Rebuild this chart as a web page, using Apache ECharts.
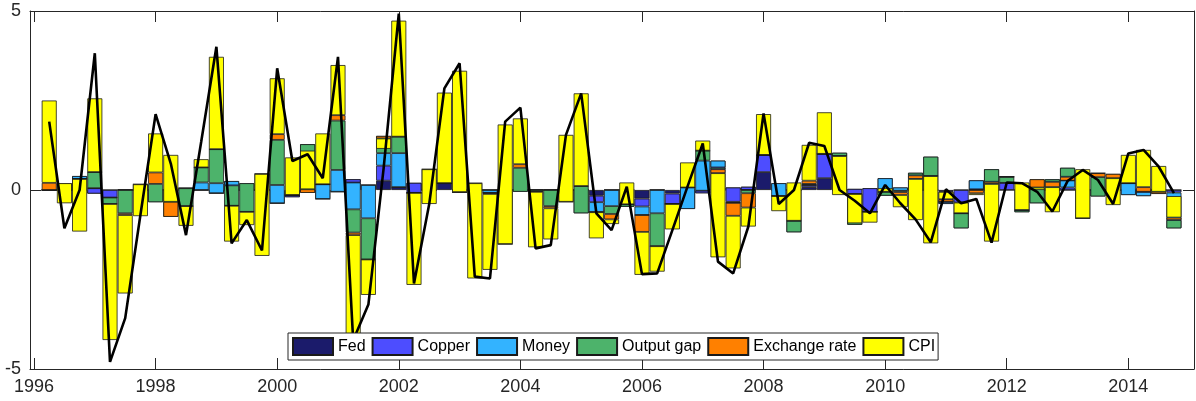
<!DOCTYPE html>
<html>
<head>
<meta charset="utf-8">
<script src="https://cdn.jsdelivr.net/npm/echarts@6/dist/echarts.min.js"></script>
<style>
  html, body { margin: 0; padding: 0; background: #ffffff; }
  #chart { width: 1196px; height: 401px; }
</style>
</head>
<body>
<div id="chart"></div>
<script>
// Historical decomposition of inflation, quarterly 1996Q2 - 2014Q4.
// Contributions are stacked cumulatively in the order listed below.
const firstQuarter = 1996.25;
const yearTicks = [1996, 1998, 2000, 2002, 2004, 2006, 2008, 2010, 2012, 2014];
const yTicks = [-5, 0, 5];

const seriesNames = ['Fed', 'Copper', 'Money', 'Output gap', 'Exchange rate', 'CPI'];

const fed = [
  0, 0, 0, -0.10, 0, 0, 0, 0, 0, 0.05,
  0, -0.09, 0, 0, 0, -0.37, -0.20, 0, -0.25, -0.05,
  0.30, 0.14, 0.26, 0.08, 0.20, 0, 0.19, 0, 0, 0,
  0, 0, 0, 0, 0, 0, -0.16, 0, 0, -0.24,
  0, -0.10, 0, -0.09, 0, 0.07, 0.09, 0.50, 0, 0,
  0.08, 0.33, 0, 0.03, 0.05, 0, 0, 0, 0, -0.05,
  0, 0, 0, 0, 0, 0, 0, 0, 0, 0,
  0, 0, 0, 0, 0
];
const copper = [
  0, 0, 0.39, 0.15, -0.21, 0, 0, 0, 0, 0,
  0, 0, 0.25, 0, 0, 0, 0.06, 0, 0, 0,
  -0.09, 0, 0.42, 0, -0.28, 0, 0, 0, 0, 0,
  0, 0, 0, 0, 0, 0, -0.18, 0, 0, -0.22,
  0, -0.29, -0.53, 0.07, 0.82, -0.40, -0.09, 0.48, 0.19, 0,
  0.06, 0.68, 0, -0.14, -0.66, 0.33, 0.07, 0, 0, -0.34,
  -0.35, 0.27, 0, 0.20, 0, 0, 0, 0.07, 0, 0,
  0, -0.14, -0.17, 0, -0.07
];
const money = [
  0, 0, -0.08, 0, 0, 0, 0, -0.34, 0, 0,
  0.21, 0.28, -0.12, 0.19, 0, 0.51, 0, 1.28, 0.41, 0.61,
  -0.75, -0.93, 0.35, 0.95, 0, 0, 0, -0.06, 0, -0.08,
  0, -0.05, 0, 0, 0, -0.65, -0.28, -0.45, -0.47, -0.24,
  -0.65, 0, 0.60, 0.84, -0.19, -0.03, 0, 0, -0.36, -1.18,
  0, 0, 1.04, -0.86, 0, -0.49, -0.09, 0.48, 0.93, 0.06,
  -0.72, -0.25, 0.58, 0, -0.62, -0.37, 0.30, 0.55, 0, -0.18,
  0, 0.33, 0.12, 0, -1.00
];
const outputGap = [
  0, 0, 0, 0.45, -0.18, -0.65, 0.16, 0.51, -0.75, -0.50,
  0.42, 0.95, -0.57, -0.80, 0.45, 1.26, 0, -1.36, 0, 1.38,
  -0.65, -1.15, 0.48, 0.46, 0, 0.58, 0, 0, 0.19, 0,
  -1.51, 0.67, -0.05, -0.45, -0.33, 0.76, 0, -0.22, 0.07, 0,
  -0.92, 0, 0, 0.28, -0.05, 0, -0.09, 0, 0, 0.32,
  0.03, 0, -0.09, 0.86, 0, 0.11, -0.04, -0.07, -0.54, 0,
  0.42, -0.02, -0.35, 0.17, 0.06, 0.67, -0.07, -0.25, -0.79, 0.54,
  0.45, 0, 0, -0.11, 0.23
];
const exchangeRate = [
  0.20, 0.19, 0, 0, 0, -0.05, 0, 0.32, 0.42, 0,
  0, 0, 0, 0, 0, 0.16, 0, 0.10, 0, 0.15,
  -0.07, 0, -0.07, 0, 0, 0, 0, 0, 0, -0.03,
  0, 0.10, 0, -0.06, 0, 0, 0, -0.15, 0, -0.47,
  0, 0, 0, 0, -0.11, -0.36, -0.40, 0, 0, 0,
  0.09, 0, 0, 0, 0, 0, -0.08, -0.10, 0, 0.07,
  0, -0.09, -0.06, 0, 0, -0.23, -0.15, -0.11, 0, 0.11,
  -0.12, 0, 0.13, 0.06, 0.07
];
const cpi = [
  2.30, -0.56, -1.47, 2.06, -3.80, -2.19, -0.89, 1.09, 1.31, -0.55,
  0.23, 2.58, -1.00, -0.37, -2.29, 1.56, 1.05, 1.08, 1.42, 1.40,
  -2.94, -0.99, -0.29, 3.24, -2.57, -0.97, 2.53, 3.39, -2.66, -2.12,
  3.34, 1.28, -1.55, -0.87, 1.87, 2.59, -0.73, -0.13, 0.61, -1.20,
  -0.71, -0.71, 0.70, 0.28, -2.35, -1.47, -0.53, 1.14, -0.42, 1.07,
  1.00, 1.16, -1.09, -0.82, -0.30, 0.10, -0.34, -1.15, -1.88, 0.21,
  0.30, -0.05, -1.61, 0, 0.77, -0.07, -0.70, 0, 1.37, 0,
  -0.75, 0.79, 1.04, 0.72, 0.60
];
// Inflation deviation (black line)
const actual = [
  1.91, -1.07, 0.00, 3.82, -4.80, -3.58, -0.70, 2.12, 0.74, -1.26,
  1.35, 4.00, -1.49, -0.84, -1.69, 3.40, 0.81, 1.00, 0.33, 3.72,
  -4.20, -3.20, 0.60, 4.93, -2.61, -0.40, 2.84, 3.54, -2.42, -2.47,
  1.91, 2.30, -1.63, -1.54, 1.54, 2.70, -0.65, -1.12, 0.09, -2.35,
  -2.33, -1.12, 0.10, 1.30, -2.00, -2.33, -1.02, 2.14, -0.39, 0.00,
  1.32, 1.23, 0.00, -0.30, -0.65, 0.14, -0.37, -0.82, -1.46, 0.02,
  -0.37, -0.25, -1.47, 0.21, 0.19, -0.05, -0.60, 0.25, 0.56, 0.28,
  -0.39, 1.02, 1.12, 0.65, -0.09
];

const components = [fed, copper, money, outputGap, exchangeRate, cpi];
const colors = ['#1b1b6b', '#4d4dff', '#33b3ff', '#4db36b', '#ff8000', '#ffff00'];

const quarters = actual.map((_, i) => firstQuarter + 0.25 * i);

const FONT = "'Liberation Sans', Arial, Helvetica, sans-serif";
const AXIS_COLOR = '#262626';

const chart = echarts.init(document.getElementById('chart'), null, { renderer: 'canvas' });

// Each point is [contribution, quarter]; the value comes first so that the
// stack runs along the vertical axis, and encode maps it back to x/y.
const barSeries = components.map((values, k) => ({
  name: seriesNames[k],
  type: 'bar',
  stack: 'decomp',
  stackStrategy: 'all',
  barWidth: 15,
  xAxisIndex: 0,
  yAxisIndex: 0,
  encode: { x: 1, y: 0 },
  itemStyle: { color: colors[k], borderColor: '#1a1a1a', borderWidth: 0.8 },
  emphasis: { disabled: true },
  data: quarters.map((q, i) => [values[i], q])
}));

const xCommon = {
  type: 'value',
  min: 1995.934,
  max: 2015.08,
  splitLine: { show: false },
  axisLine: { show: true, onZero: false, lineStyle: { color: AXIS_COLOR, width: 1 } },
  axisTick: { show: true, inside: true, length: 11, customValues: yearTicks, lineStyle: { color: AXIS_COLOR, width: 1 } }
};
const yCommon = {
  type: 'value',
  min: -5,
  max: 5,
  interval: 5,
  splitLine: { show: false },
  axisLine: { show: true, onZero: false, lineStyle: { color: AXIS_COLOR, width: 1 } },
  axisTick: { show: true, inside: true, length: 11, customValues: yTicks, lineStyle: { color: AXIS_COLOR, width: 1 } }
};

chart.setOption({
  animation: false,
  backgroundColor: '#ffffff',
  grid: { left: 30, right: 2, top: 11, bottom: 32, containLabel: false },
  legend: {
    data: seriesNames,
    left: 288,
    top: 333,
    orient: 'horizontal',
    icon: 'rect',
    itemWidth: 40,
    itemHeight: 17,
    itemGap: 6,
    padding: [4, 3, 4, 4],
    borderColor: AXIS_COLOR,
    borderWidth: 1,
    backgroundColor: '#ffffff',
    selectedMode: false,
    textStyle: { fontSize: 16, color: '#000000', fontFamily: FONT },
    z: 10
  },
  xAxis: [
    Object.assign({}, xCommon, {
      position: 'bottom',
      axisLabel: {
        show: true, customValues: yearTicks, fontSize: 18, color: AXIS_COLOR,
        fontFamily: FONT, margin: 9, formatter: v => String(v)
      }
    }),
    Object.assign({}, xCommon, { position: 'top', axisLabel: { show: false } })
  ],
  yAxis: [
    Object.assign({}, yCommon, {
      position: 'left',
      axisLabel: {
        show: true, customValues: yTicks, fontSize: 18, color: AXIS_COLOR,
        fontFamily: FONT, margin: 9, formatter: v => String(v)
      }
    }),
    Object.assign({}, yCommon, { position: 'right', axisLabel: { show: false } })
  ],
  series: barSeries.concat([{
    name: 'Inflation',
    type: 'line',
    xAxisIndex: 0,
    yAxisIndex: 0,
    symbol: 'none',
    z: 5,
    lineStyle: { color: '#000000', width: 2.6 },
    emphasis: { disabled: true },
    data: quarters.map((q, i) => [q, actual[i]])
  }])
});
</script>
</body>
</html>
